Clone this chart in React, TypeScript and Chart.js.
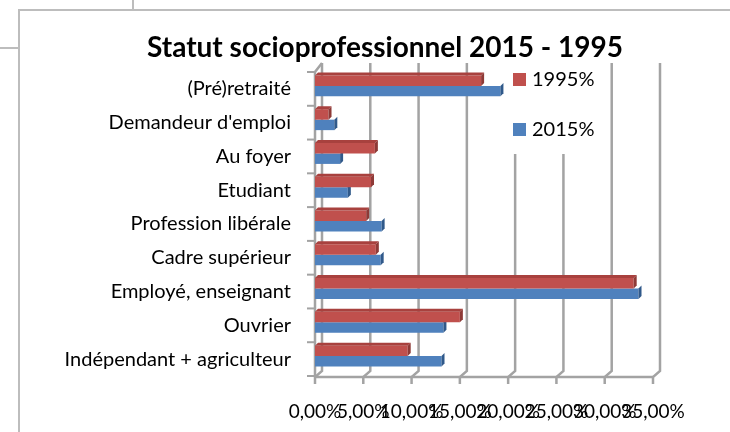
import React, { useEffect, useRef } from "react";
import { Chart, registerables } from "chart.js";

Chart.register(...registerables);

const title = "Statut socioprofessionnel 2015 - 1995";
const categories = [
  "(Pré)retraité",
  "Demandeur d'emploi",
  "Au foyer",
  "Etudiant",
  "Profession libérale",
  "Cadre supérieur",
  "Employé, enseignant",
  "Ouvrier",
  "Indépendant + agriculteur",
];
const seriesLabels = ["1995%", "2015%"];
const values1995 = [17.2, 1.4, 6.2, 5.8, 5.3, 6.3, 33.0, 15.0, 9.6];
const values2015 = [19.2, 2.0, 2.6, 3.4, 6.9, 6.8, 33.5, 13.3, 13.1];
const xTicks = [0, 5, 10, 15, 20, 25, 30, 35];

const RED = "#C0504D";
const RED_DARK = "#8E3A37";
const RED_TOP = "#A8413E";
const BLUE = "#4F81BD";
const BLUE_DARK = "#30598A";
const FONT = "Lato, 'Open Sans', sans-serif";
const DEPTH = 3;
const SHIFT = 3;

const fmt = (v: number) => v.toFixed(2).replace(".", ",") + "%";

const decorPlugin = {
  id: "decor",
  beforeDatasetsDraw(chart: any) {
    const ctx = chart.ctx;
    const area = chart.chartArea;
    const xs = chart.scales.x;
    const ys = chart.scales.y;
    ctx.save();
    // spreadsheet lines and chart frame
    ctx.strokeStyle = "#bdbdbd";
    ctx.lineWidth = 2;
    ctx.beginPath();
    ctx.moveTo(133, 0);
    ctx.lineTo(133, 10);
    ctx.moveTo(0, 48);
    ctx.lineTo(19, 48);
    ctx.moveTo(19, 432);
    ctx.lineTo(19, 10);
    ctx.lineTo(730, 10);
    ctx.stroke();

    const base = area.bottom + 1;
    const backTop = area.top - 9;
    const dx = 7;
    const dy = 6;
    ctx.strokeStyle = "#a3a3a3";
    ctx.lineWidth = 2.5;
    ctx.lineCap = "butt";
    // back vertical grid lines + floor diagonals + front ticks
    xTicks.forEach((v) => {
      const x = xs.getPixelForValue(v);
      ctx.beginPath();
      ctx.moveTo(x + dx, backTop);
      ctx.lineTo(x + dx, base - dy);
      ctx.lineTo(x, base);
      ctx.lineTo(x, base + 7);
      ctx.stroke();
    });
    // base line
    ctx.beginPath();
    ctx.moveTo(xs.getPixelForValue(0), base);
    ctx.lineTo(xs.getPixelForValue(35), base);
    ctx.stroke();
    // left wall
    const x0 = xs.getPixelForValue(0);
    ctx.beginPath();
    ctx.moveTo(x0, base);
    ctx.lineTo(x0, area.top);
    ctx.lineTo(x0 + dx, backTop);
    ctx.stroke();
    // category ticks
    ctx.lineWidth = 2;
    const n = categories.length;
    for (let i = 0; i <= n; i++) {
      const y = ys.top + ((ys.bottom - ys.top) * i) / n;
      ctx.beginPath();
      ctx.moveTo(x0 - 8, y);
      ctx.lineTo(x0, y);
      ctx.stroke();
    }
    ctx.restore();

    ctx.save();
    ctx.translate(0, -SHIFT);
  },
  afterDatasetDraw(chart: any, args: any) {
    const ctx = chart.ctx;
    const meta = args.meta;
    const isRed = args.index === 0;
    meta.data.forEach((bar: any) => {
      const { x, y, base, height } = bar.getProps(["x", "y", "base", "height"], true);
      const top = y - height / 2;
      const bot = y + height / 2;
      const d = DEPTH;
      if (isRed) {
        ctx.fillStyle = RED_TOP;
        ctx.beginPath();
        ctx.moveTo(base, top);
        ctx.lineTo(base + d, top - d);
        ctx.lineTo(x + d, top - d);
        ctx.lineTo(x, top);
        ctx.closePath();
        ctx.fill();
      }
      ctx.fillStyle = isRed ? RED_DARK : BLUE_DARK;
      ctx.beginPath();
      ctx.moveTo(x, top);
      ctx.lineTo(x + d, top - d);
      ctx.lineTo(x + d, bot - d);
      ctx.lineTo(x, bot);
      ctx.closePath();
      ctx.fill();
    });
  },
  afterDatasetsDraw(chart: any) {
    const ctx = chart.ctx;
    ctx.restore();
    ctx.save();
    // legend
    ctx.fillStyle = "#ffffff";
    ctx.fillRect(506, 62, 97, 92);
    const items = [
      { label: seriesLabels[0], color: RED, y: 79 },
      { label: seriesLabels[1], color: BLUE, y: 129 },
    ];
    ctx.font = `20px ${FONT}`;
    ctx.textBaseline = "middle";
    ctx.textAlign = "left";
    items.forEach((it) => {
      ctx.fillStyle = it.color;
      ctx.fillRect(513, it.y - 6, 13, 13);
      ctx.fillStyle = "#000";
      ctx.fillText(it.label, 532, it.y + 1);
    });
    // title
    ctx.font = `bold 28px ${FONT}`;
    ctx.textAlign = "center";
    ctx.fillStyle = "#000";
    ctx.fillText(title, 385, 48);
    ctx.restore();
  },
};

export default function App() {
  const ref = useRef<HTMLCanvasElement | null>(null);
  useEffect(() => {
    if (!ref.current) return;
    const chart = new Chart(ref.current, {
      type: "bar",
      data: {
        labels: categories,
        datasets: [
          {
            label: seriesLabels[0],
            data: values1995,
            backgroundColor: RED,
            categoryPercentage: 0.62,
            barPercentage: 1,
          },
          {
            label: seriesLabels[1],
            data: values2015,
            backgroundColor: BLUE,
            categoryPercentage: 0.62,
            barPercentage: 1,
          },
        ],
      },
      options: {
        indexAxis: "y",
        responsive: false,
        animation: false,
        layout: { padding: { top: 72, right: 77, left: 19, bottom: 0 } },
        plugins: {
          legend: { display: false },
          title: { display: false },
          tooltip: { enabled: false },
        },
        scales: {
          x: {
            min: 0,
            max: 35,
            grid: { display: false, drawTicks: false },
            border: { display: false },
            afterFit: (s: any) => {
              s.height = 56;
            },
            afterBuildTicks: (s: any) => {
              s.ticks = xTicks.map((v) => ({ value: v }));
            },
            ticks: {
              autoSkip: false,
              maxRotation: 0,
              minRotation: 0,
              padding: 24,
              color: "#000",
              font: { family: FONT, size: 19 },
              callback: (v: any) => fmt(Number(v)),
            },
          },
          y: {
            grid: { display: false, drawTicks: false },
            border: { display: false },
            afterFit: (s: any) => {
              s.width = 296;
            },
            ticks: {
              padding: 24,
              color: "#000",
              font: { family: FONT, size: 20 },
            },
          },
        },
      },
      plugins: [decorPlugin],
    });
    return () => chart.destroy();
  }, []);
  return (
    <div style={{ position: "absolute", left: 0, top: 0, width: 730, height: 432, background: "#fff" }}>
      <canvas ref={ref} width={730} height={432} style={{ display: "block", width: 730, height: 432 }} />
    </div>
  );
}
